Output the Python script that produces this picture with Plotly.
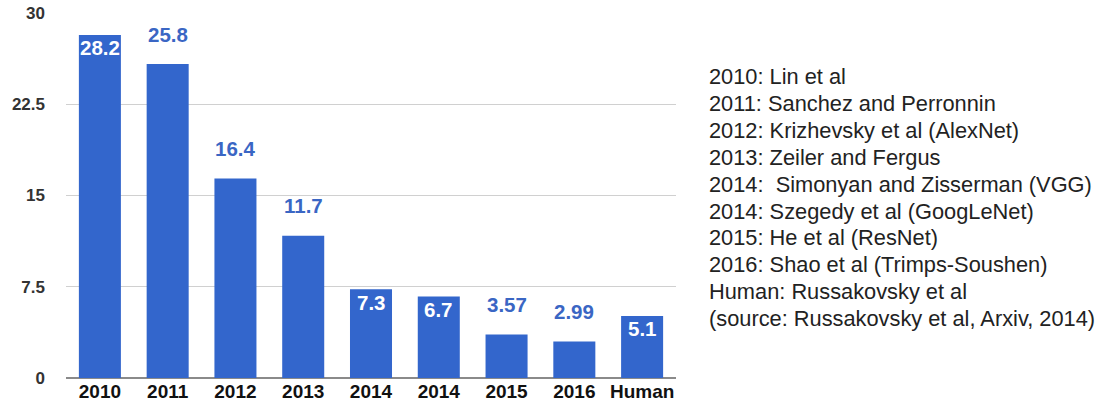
import plotly.graph_objects as go

# Top-5 error rate of ImageNet winners
categories = ["2010", "2011", "2012", "2013", "2014", "2014", "2015", "2016", "Human"]
error_rates = [28.2, 25.8, 16.4, 11.7, 7.3, 6.7, 3.57, 2.99, 5.1]
label_text = ["28.2", "25.8", "16.4", "11.7", "7.3", "6.7", "3.57", "2.99", "5.1"]
label_inside = [True, False, False, False, True, True, False, False, True]
y_ticks = [0, 7.5, 15, 22.5, 30]
y_tick_labels = ["0", "7.5", "15", "22.5", "30"]

references = [
    "2010: Lin et al",
    "2011: Sanchez and Perronnin",
    "2012: Krizhevsky et al (AlexNet)",
    "2013: Zeiler and Fergus",
    "2014:  Simonyan and Zisserman (VGG)",
    "2014: Szegedy et al (GoogLeNet)",
    "2015: He et al (ResNet)",
    "2016: Shao et al (Trimps-Soushen)",
    "Human: Russakovsky et al",
    "(source: Russakovsky et al, Arxiv, 2014)",
]

BLUE = "#3366cc"
LABEL_BLUE = "#3a66c4"
SANS = "Liberation Sans, Arial, sans-serif"

W, H = 1104, 404
M_L, M_R, M_T, M_B = 66, 428, 13, 26
positions = list(range(len(categories)))

fig = go.Figure()
fig.add_trace(go.Bar(
    x=positions,
    y=error_rates,
    width=0.62,
    marker=dict(color=BLUE, line=dict(width=0)),
    hoverinfo="skip",
))

# Value labels: white inside the bar top, or blue floating above it
for xi, val, txt, inside in zip(positions, error_rates, label_text, label_inside):
    fig.add_annotation(
        x=xi, y=val, xref="x", yref="y",
        text="<b>%s</b>" % txt,
        showarrow=False,
        xanchor="center", yanchor="middle",
        yshift=-13 if inside else 30,
        font=dict(family=SANS, size=20.5, color="white" if inside else LABEL_BLUE),
    )

fig.update_layout(
    width=W,
    height=H,
    margin=dict(l=M_L, r=M_R, t=M_T, b=M_B, autoexpand=False),
    paper_bgcolor="white",
    plot_bgcolor="white",
    showlegend=False,
    xaxis=dict(
        tickmode="array",
        tickvals=positions,
        ticktext=["<b>%s</b>" % c for c in categories],
        tickfont=dict(family=SANS, size=19, color="#111"),
        range=[-0.5, len(categories) - 0.5],
        showgrid=False,
        zeroline=False,
        showline=False,
        ticks="",
        automargin=False,
        fixedrange=True,
    ),
    yaxis=dict(
        range=[0, 30],
        tickmode="array",
        tickvals=y_ticks,
        ticktext=["<b>%s</b>" % t for t in y_tick_labels],
        tickfont=dict(family=SANS, size=17, color="#333"),
        showgrid=True,
        gridcolor="#d0d0d0",
        gridwidth=1,
        zeroline=True,
        zerolinecolor="#8a8a8a",
        zerolinewidth=2,
        ticks="",
        ticklabelstandoff=20,
        automargin=False,
        fixedrange=True,
    ),
)

# Reference list beside the chart, placed in pixel terms
plot_w = W - M_L - M_R
plot_h = H - M_T - M_B
for i, line in enumerate(references):
    px_x, px_y = 707, 77 + i * 26.8
    fig.add_annotation(
        x=(px_x - M_L) / plot_w,
        y=1 - (px_y - M_T) / plot_h,
        xref="paper", yref="paper",
        text=line,
        showarrow=False,
        xanchor="left", yanchor="middle",
        font=dict(family=SANS, size=21.8, color="#222"),
    )

fig.write_html("out.html")
